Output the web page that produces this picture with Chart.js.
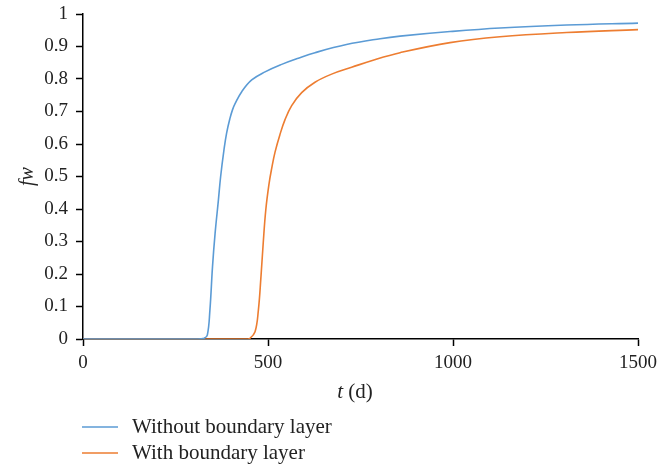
<!DOCTYPE html>
<html>
<head>
<meta charset="utf-8">
<script src="https://cdn.jsdelivr.net/npm/chart.js@4"></script>
<style>
  html, body { margin: 0; padding: 0; background: #fff; }
  #wrap { width: 659px; height: 466px; }
</style>
</head>
<body>
<div id="wrap"><canvas id="fwChart" width="659" height="466"></canvas></div>
<script>
// water cut curves, t in days
var tWithout = [0, 310, 327, 336, 343, 350, 357, 366, 372, 381, 388, 397, 404, 411, 429, 456, 492, 537, 582, 627, 712, 803, 857, 992, 1127, 1307, 1500];
var fwWithout = [0, 0, 0.002, 0.012, 0.089, 0.222, 0.325, 0.428, 0.5, 0.582, 0.633, 0.678, 0.705, 0.724, 0.761, 0.797, 0.822, 0.845, 0.864, 0.881, 0.906, 0.924, 0.932, 0.946, 0.957, 0.966, 0.972];

var tWith = [0, 440, 451, 465, 474, 481, 487, 494, 503, 510, 519, 532, 546, 564, 591, 627, 672, 726, 784, 857, 992, 1127, 1307, 1500];
var fwWith = [0, 0, 0.002, 0.022, 0.089, 0.192, 0.294, 0.397, 0.479, 0.525, 0.575, 0.628, 0.675, 0.718, 0.758, 0.79, 0.815, 0.836, 0.858, 0.881, 0.912, 0.93, 0.943, 0.952];

var seriesNames = ["Without boundary layer", "With boundary layer"];
var lineColors = ["#5b9bd5", "#ed7d31"];

var SERIF = '"Liberation Serif", "DejaVu Serif", serif';

function toPoints(xs, ys) {
  return xs.map(function (x, i) { return { x: x, y: ys[i] }; });
}

function plainNum(v) {
  return String(Math.round(v * 10) / 10);
}

// legend under the axis + x title with italic t
var extras = {
  id: "extras",
  afterDraw: function (chart) {
    var ctx = chart.ctx;
    ctx.save();
    // x axis title
    ctx.fillStyle = "#222";
    ctx.textBaseline = "middle";
    ctx.font = "italic 21px " + SERIF;
    var w1 = ctx.measureText("t").width;
    ctx.font = "21px " + SERIF;
    var w2 = ctx.measureText(" (d)").width;
    var x0 = 355 - (w1 + w2) / 2;
    ctx.font = "italic 21px " + SERIF;
    ctx.textAlign = "left";
    ctx.fillText("t", x0, 392);
    ctx.font = "21px " + SERIF;
    ctx.fillText(" (d)", x0 + w1, 392);

    // legend
    chart.data.datasets.forEach(function (ds, i) {
      var y = 427 + i * 26;
      ctx.strokeStyle = ds.borderColor;
      ctx.lineWidth = 1.5;
      ctx.beginPath();
      ctx.moveTo(82, y);
      ctx.lineTo(118, y);
      ctx.stroke();
      ctx.fillStyle = "#222";
      ctx.font = "21px " + SERIF;
      ctx.fillText(ds.label, 132, y);
    });
    ctx.restore();
  }
};

new Chart("fwChart", {
  type: "line",
  data: {
    datasets: [{
      label: seriesNames[0],
      data: toPoints(tWithout, fwWithout),
      borderColor: lineColors[0],
      borderWidth: 1.6,
      pointRadius: 0,
      tension: 0.4,
      fill: false
    }, {
      label: seriesNames[1],
      data: toPoints(tWith, fwWith),
      borderColor: lineColors[1],
      borderWidth: 1.6,
      pointRadius: 0,
      tension: 0.4,
      fill: false
    }]
  },
  options: {
    responsive: false,
    animation: false,
    devicePixelRatio: 1,
    layout: { padding: { top: 14, right: 21, left: 0, bottom: 97 } },
    plugins: {
      legend: { display: false },
      tooltip: { enabled: false }
    },
    scales: {
      x: {
        type: "linear",
        min: 0,
        max: 1500,
        ticks: {
          stepSize: 500,
          color: "#222",
          padding: 6,
          maxRotation: 0,
          callback: plainNum,
          font: { family: SERIF, size: 19 }
        },
        grid: { drawOnChartArea: false, tickLength: 7, color: "#000", tickWidth: 1.5 },
        border: { color: "#000", width: 1.5 },
        afterFit: function (s) {
          s.height = 30;
          s.paddingLeft = 0;
          s.paddingRight = 0;
        }
      },
      y: {
        min: 0,
        max: 1,
        ticks: {
          stepSize: 0.1,
          color: "#222",
          padding: 8,
          callback: plainNum,
          font: { family: SERIF, size: 19 }
        },
        grid: { drawOnChartArea: false, tickLength: 7, color: "#000", tickWidth: 1.5 },
        border: { color: "#000", width: 1.5 },
        title: {
          display: true,
          text: "fw",
          color: "#222",
          padding: { top: 16, bottom: 0 },
          font: { family: SERIF, size: 20, style: "italic" }
        },
        afterFit: function (s) {
          s.width = 83;
          s.paddingTop = 0;
          s.paddingBottom = 0;
        }
      }
    }
  },
  plugins: [extras]
});
</script>
</body>
</html>
